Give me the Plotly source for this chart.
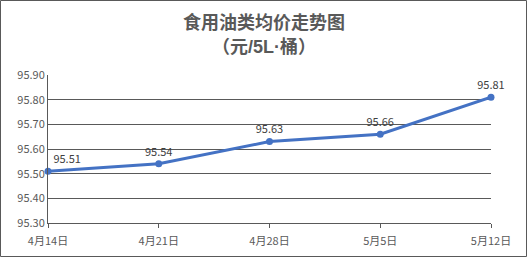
import plotly.graph_objects as go

categories = ["4月14日", "4月21日", "4月28日", "5月5日", "5月12日"]
values = [95.51, 95.54, 95.63, 95.66, 95.81]
y_ticks = [95.30, 95.40, 95.50, 95.60, 95.70, 95.80, 95.90]
title_lines = ["食用油类均价走势图", "（元/5L·桶）"]

W, H = 527, 257
ml, mr, mt, mb = 48, 36, 75, 34
pw, ph = W - ml - mr, H - mt - mb
FONT = "Noto Sans CJK SC, sans-serif"
TFONT = "Liberation Sans, Noto Sans CJK SC, sans-serif"

xs = list(range(len(categories)))
positions = ["top right"] + ["top center"] * (len(values) - 1)
fig = go.Figure()
fig.add_trace(go.Scatter(
    x=xs, y=values, mode="lines+markers+text",
    line=dict(color="#4472C4", width=3),
    marker=dict(color="#4472C4", size=7),
    text=[f"{v:.2f}" for v in values],
    textposition=positions,
    textfont=dict(family=FONT, size=11, color="#404040"),
    cliponaxis=False, hoverinfo="skip",
))
fig.update_layout(
    width=W, height=H, margin=dict(l=ml, r=mr, t=mt, b=mb, autoexpand=False),
    paper_bgcolor="white", plot_bgcolor="white", showlegend=False,
    font=dict(family=FONT, size=11, color="#595959"),
    xaxis=dict(range=[0, len(categories) - 1], tickvals=xs, ticktext=categories,
               showgrid=False, zeroline=False, showline=True, linecolor="#595959",
               linewidth=1, ticks="outside", ticklen=4, tickcolor="#595959",
               ticklabelstandoff=4, automargin=False,
               tickfont=dict(size=11, color="#595959")),
    yaxis=dict(range=[95.30, 95.90], tickvals=y_ticks,
               ticktext=[f"{v:.2f}" for v in y_ticks],
               showgrid=True, gridcolor="#595959", gridwidth=1, zeroline=False,
               showline=True, linecolor="#595959", linewidth=1, automargin=False,
               ticks="", ticklabelstandoff=0, tickfont=dict(size=11, color="#595959")),
)
for line, ypx in zip(title_lines, [22, 47]):
    fig.add_annotation(text=f"<b>{line}</b>", xref="paper", yref="paper",
                       x=(W / 2 - ml) / pw, y=1 + (mt - ypx) / ph,
                       xanchor="center", yanchor="middle", showarrow=False,
                       font=dict(family=TFONT, size=18, color="#595959"))
fig.add_shape(type="rect", xref="paper", yref="paper",
              x0=-(ml - 0.5) / pw, x1=1 + (mr - 0.5) / pw,
              y0=-(mb - 0.5) / ph, y1=1 + (mt - 0.5) / ph,
              line=dict(color="#595959", width=1))
fig.write_html("out.html")
